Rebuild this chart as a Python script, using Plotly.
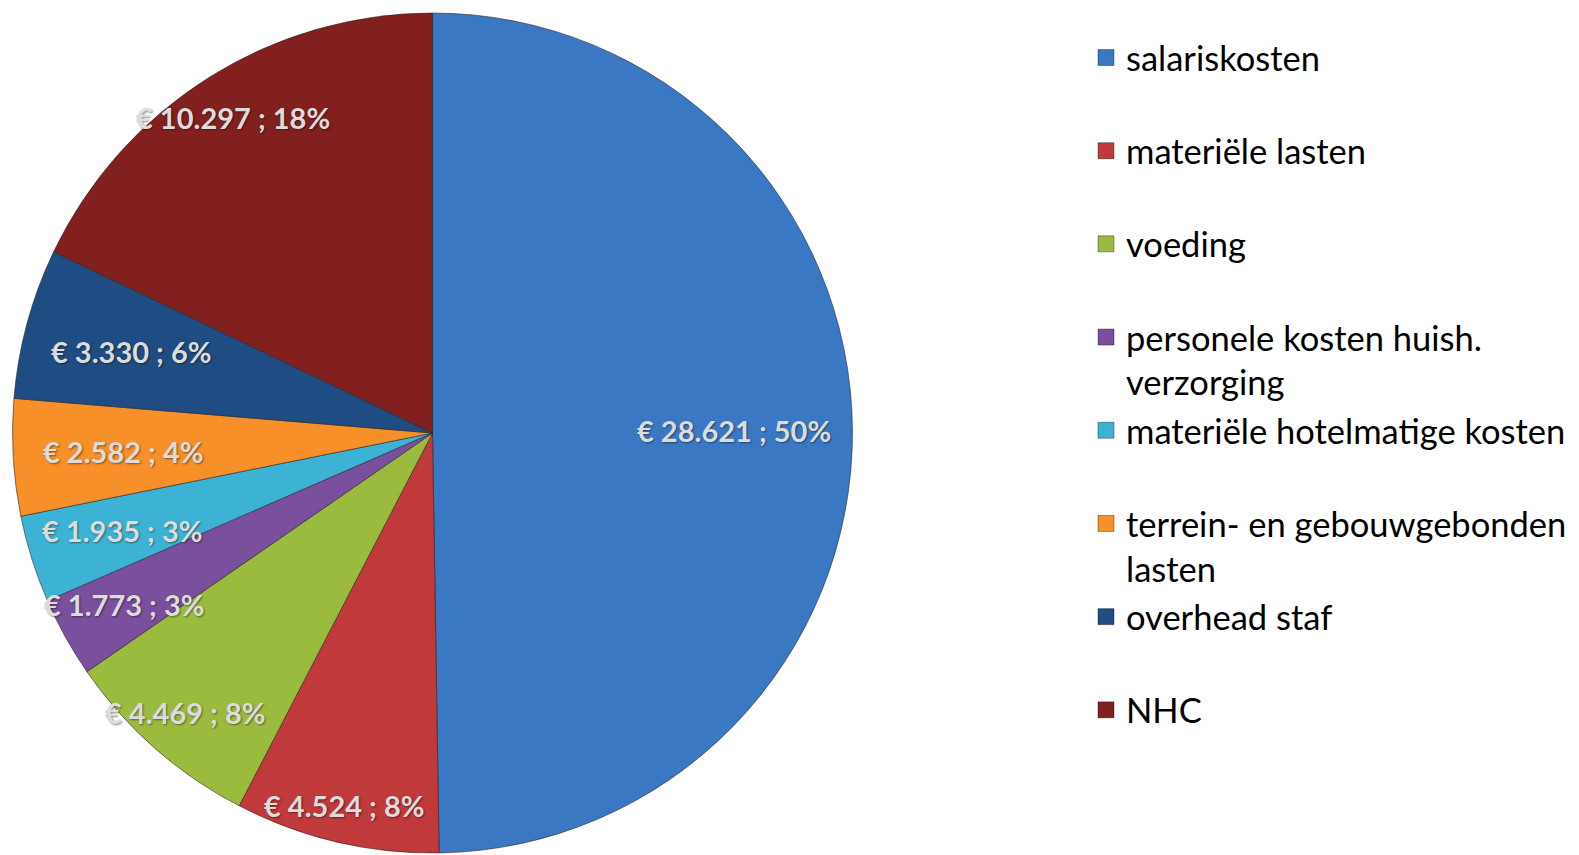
import plotly.graph_objects as go
import math

categories = [
    "salariskosten",
    "materiële lasten",
    "voeding",
    "personele kosten huish.<br>verzorging",
    "materiële hotelmatige kosten",
    "terrein- en gebouwgebonden<br>lasten",
    "overhead staf",
    "NHC",
]
values = [28621, 4524, 4469, 1773, 1935, 2582, 3330, 10297]

colors = ["#3B78C4", "#C0393B", "#9BBB3F", "#7A4F9E", "#3CB3D4", "#F79029", "#1F4C82", "#82201F"]
label_radius = [0.718, 0.91, 0.888, 0.84, 0.775, 0.738, 0.743, 0.889]

W, H = 1579, 855
OFF = 8  # page body margin shifts the figure by this many px
dom_x = [(12 - OFF) / W, (853 - OFF) / W]
dom_y = [1 - (853 - OFF) / H, 1 - (13 - OFF) / H]

total = sum(values)


def fmt_label(v):
    s = f"{v:,}".replace(",", ".")
    return f"€ {s} ; {round(100 * v / total)}%"


fig = go.Figure()
fig.add_trace(go.Pie(
    labels=categories,
    values=values,
    sort=False,
    direction="clockwise",
    rotation=0,
    marker=dict(colors=colors, line=dict(color="rgba(40,30,30,0.55)", width=1)),
    textinfo="none",
    hoverinfo="label+value+percent",
    domain=dict(x=dom_x, y=dom_y),
    showlegend=False,
))

# legend entries (one group per category so spacing can be controlled)
for i, (cat, col) in enumerate(zip(categories, colors)):
    name = cat if "<br>" in cat else cat + "<br> "
    fig.add_trace(go.Scatter(
        x=[None], y=[None], mode="markers", name=name,
        marker=dict(symbol="square", size=20, color=col,
                    line=dict(color="rgba(0,0,0,0.35)", width=1)),
        legendgroup=f"g{i}", showlegend=True, hoverinfo="skip",
    ))

# data labels placed from slice angles
cx = (dom_x[0] + dom_x[1]) / 2
cy = (dom_y[0] + dom_y[1]) / 2
r_px = min((dom_x[1] - dom_x[0]) * W, (dom_y[1] - dom_y[0]) * H) / 2
cum = 0
for v, f in zip(values, label_radius):
    mid = (cum + v / 2) / total
    cum += v
    th = 2 * math.pi * mid
    x = cx + r_px * f * math.sin(th) / W
    y = cy + r_px * f * math.cos(th) / H
    fig.add_annotation(
        x=x, y=y, xref="paper", yref="paper", text=fmt_label(v), showarrow=False,
        xanchor="center", yanchor="middle",
        font=dict(family="Lato", size=29, color="#DCDCDC", weight="bold",
                  shadow="1px 1px 2px rgba(0,0,0,0.45)"),
    )

fig.update_layout(
    width=W, height=H,
    margin=dict(l=0, r=0, t=0, b=0),
    paper_bgcolor="white", plot_bgcolor="white",
    xaxis=dict(visible=False), yaxis=dict(visible=False),
    legend=dict(
        x=1078 / W, xanchor="left", y=0.976, yanchor="top",
        font=dict(family="Lato", size=34.5, color="#000000"),
        valign="top", tracegroupgap=0.5, traceorder="grouped",
        bgcolor="rgba(0,0,0,0)", itemclick=False, itemdoubleclick=False,
    ),
    showlegend=True,
)

fig.write_html("out.html")
